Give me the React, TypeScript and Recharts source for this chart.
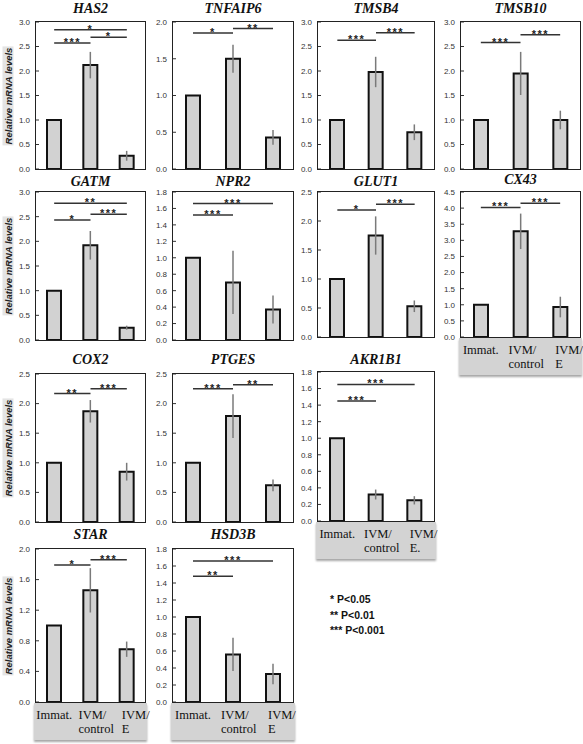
import React from 'react';
import { BarChart, Bar, XAxis, YAxis, ErrorBar, ReferenceLine } from 'recharts';

// ---------- data ----------
const groups = ['Immat.', 'IVM/control', 'IVM/E'];
const groupsAkr = ['Immat.', 'IVM/control', 'IVM/E.'];

const ticks30 = [0, 0.5, 1, 1.5, 2, 2.5, 3];
const ticks20 = [0, 0.5, 1, 1.5, 2];
const ticks18 = [0, 0.2, 0.4, 0.6, 0.8, 1, 1.2, 1.4, 1.6, 1.8];
const ticks25 = [0, 0.5, 1, 1.5, 2, 2.5];
const ticks45 = [0, 0.5, 1, 1.5, 2, 2.5, 3, 3.5, 4, 4.5];
const ticksStar = [0, 0.4, 0.8, 1.2, 1.6, 2.0];

const has2Values = [1.0, 2.12, 0.27];
const has2Errors = [0, 0.27, 0.1];
const tnfaip6Values = [1.0, 1.5, 0.43];
const tnfaip6Errors = [0, 0.19, 0.1];
const tmsb4Values = [1.0, 1.98, 0.75];
const tmsb4Errors = [0, 0.31, 0.16];
const tmsb10Values = [1.0, 1.95, 1.0];
const tmsb10Errors = [0, 0.44, 0.19];
const gatmValues = [1.0, 1.92, 0.25];
const gatmErrors = [0, 0.29, 0.04];
const npr2Values = [1.0, 0.7, 0.37];
const npr2Errors = [0, 0.385, 0.17];
const glut1Values = [1.0, 1.75, 0.53];
const glut1Errors = [0, 0.33, 0.1];
const cx43Values = [1.0, 3.28, 0.93];
const cx43Errors = [0, 0.55, 0.32];
const cox2Values = [1.0, 1.87, 0.85];
const cox2Errors = [0, 0.19, 0.15];
const ptgesValues = [1.0, 1.79, 0.62];
const ptgesErrors = [0, 0.37, 0.1];
const akr1b1Values = [1.0, 0.32, 0.25];
const akr1b1Errors = [0, 0.06, 0.05];
const starValues = [1.0, 1.46, 0.69];
const starErrors = [0, 0.29, 0.1];
const hsd3bValues = [1.0, 0.56, 0.33];
const hsd3bErrors = [0, 0.195, 0.12];

// significance brackets: [from group, to group, level, stars]
type Sig = [number, number, number, string];
const has2Sig: Sig[] = [[0, 1, 2.57, '***'], [1, 2, 2.69, '*'], [0, 2, 2.84, '*']];
const tnfaip6Sig: Sig[] = [[0, 1, 1.85, '*'], [1, 2, 1.91, '**']];
const tmsb4Sig: Sig[] = [[0, 1, 2.63, '***'], [1, 2, 2.78, '***']];
const tmsb10Sig: Sig[] = [[0, 1, 2.58, '***'], [1, 2, 2.74, '***']];
const gatmSig: Sig[] = [[0, 1, 2.43, '*'], [1, 2, 2.55, '***'], [0, 2, 2.77, '**']];
const npr2Sig: Sig[] = [[0, 1, 1.52, '***'], [0, 2, 1.66, '***']];
const glut1Sig: Sig[] = [[0, 1, 2.19, '*'], [1, 2, 2.29, '***']];
const cx43Sig: Sig[] = [[0, 1, 4.02, '***'], [1, 2, 4.15, '***']];
const cox2Sig: Sig[] = [[0, 1, 2.17, '**'], [1, 2, 2.25, '***']];
const ptgesSig: Sig[] = [[0, 1, 2.25, '***'], [1, 2, 2.32, '**']];
const akr1b1Sig: Sig[] = [[0, 1, 1.45, '***'], [0, 2, 1.65, '***']];
const starSig: Sig[] = [[0, 1, 1.79, '*'], [1, 2, 1.86, '***']];
const hsd3bSig: Sig[] = [[0, 1, 1.48, '**'], [0, 2, 1.66, '***']];

const legendLines = ['* P<0.05', '** P<0.01', '*** P<0.001'];
const yAxisTitle = 'Relative mRNA levels';

// ---------- layout ----------
const SANS = '"Liberation Sans", Arial, sans-serif';
const SERIF = '"Liberation Serif", "Times New Roman", Tinos, serif';

const CatTick = (props: any) => {
  const { x, y, payload, index } = props;
  const v: string = String(payload.value);
  const slash = v.indexOf('/');
  const style = { fontFamily: SERIF, fontSize: 12.5, fill: '#111' };
  if (slash < 0) {
    return (
      <text x={x} y={y + 17} textAnchor="middle" style={style}>
        {v}
      </text>
    );
  }
  const a = v.slice(0, slash + 1);
  const b = v.slice(slash + 1);
  const sx = x + (index === 2 ? -5 : -12);
  return (
    <text x={sx} y={y + 17} textAnchor="start" style={style}>
      <tspan x={sx}>{a}</tspan>
      <tspan x={sx} dy={14}>{b}</tspan>
    </text>
  );
};

type PanelProps = {
  title: string;
  titleY: number;
  cats: string[];
  values: number[];
  errors: number[];
  ticks: number[];
  sig: Sig[];
  box: [number, number, number, number];
  xLabels?: boolean;
  yTitle?: boolean;
};

function Panel({ title, titleY, cats, values, errors, ticks, sig, box, xLabels, yTitle }: PanelProps) {
  const data = cats.map((c, i) => ({ cat: c, value: values[i], err: errors[i] }));
  const [x0, y0, x1, y1] = box;
  const yw = 30;
  const mt = 8;
  const mb = 8;
  const mr = 24;
  const xh = xLabels ? 40 : 0;
  const W = x1 - x0 + yw + mr;
  const H = y1 - y0 + mt + xh + mb;
  return (
    <>
      <div
        style={{
          position: 'absolute',
          left: (x0 + x1) / 2,
          top: titleY,
          transform: 'translate(-50%, -50%)',
          fontFamily: SERIF,
          fontWeight: 'bold',
          fontStyle: 'italic',
          fontSize: 14,
          lineHeight: 1,
          whiteSpace: 'nowrap',
          color: '#111',
        }}
      >
        {title}
      </div>
      {yTitle && (
        <div
          style={{
            position: 'absolute',
            left: 8,
            top: (y0 + y1) / 2,
            transform: 'translate(-50%, -50%) rotate(-90deg)',
            fontFamily: SANS,
            fontWeight: 'bold',
            fontStyle: 'italic',
            fontSize: 9.5,
            lineHeight: '11px',
            whiteSpace: 'nowrap',
            background: '#e4e4e4',
            color: '#222',
            padding: '0 1px',
          }}
        >
          {yAxisTitle}
        </div>
      )}
      {xLabels && (
        <div
          style={{
            position: 'absolute',
            left: x0 - 2,
            top: y1 + 1,
            width: x1 - x0 + 4,
            height: xh - 3,
            background: '#d3d3d3',
            boxShadow: '0 2px 2px rgba(0,0,0,0.35)',
          }}
        />
      )}
      <div style={{ position: 'absolute', left: x0 - yw, top: y0 - mt }}>
        <BarChart
          width={W}
          height={H}
          data={data}
          margin={{ top: mt, right: mr, bottom: mb, left: 0 }}
        >
          <XAxis
            dataKey="cat"
            hide={!xLabels}
            height={xh}
            axisLine={false}
            tickLine={false}
            tickSize={0}
            tickMargin={0}
            interval={0}
            tick={<CatTick />}
          />
          <YAxis
            type="number"
            domain={[ticks[0], ticks[ticks.length - 1]]}
            ticks={ticks}
            interval={0}
            width={yw}
            axisLine={false}
            tickSize={-3}
            tickMargin={9}
            tickLine={{ stroke: '#333' }}
            tick={{ fontSize: 8, fill: '#333', fontFamily: SANS }}
            tickFormatter={(v: number) => v.toFixed(1)}
          />
          <Bar
            dataKey="value"
            fill="#d2d2d2"
            stroke="#111"
            strokeWidth={2}
            barSize={14}
            isAnimationActive={false}
          >
            <ErrorBar dataKey="err" width={0} stroke="#7a7a7a" strokeWidth={1.5} direction="y" />
          </Bar>
          {sig.map(([a, b, lvl, s], i) => (
            <ReferenceLine
              key={i}
              segment={[
                { x: cats[a], y: lvl },
                { x: cats[b], y: lvl },
              ]}
              stroke="#333"
              strokeWidth={1.5}
              ifOverflow="visible"
              label={{
                value: s,
                position: 'top',
                offset: -3,
                fill: '#222',
                fontSize: 11,
                fontWeight: 'bold',
                fontFamily: SANS,
                letterSpacing: 1.5,
              }}
            />
          ))}
        </BarChart>
      </div>
      <div
        style={{
          position: 'absolute',
          left: x0 - 0.75,
          top: y0 - 0.75,
          width: x1 - x0 + 1.5,
          height: y1 - y0 + 1.5,
          border: '1.5px solid #222',
          boxSizing: 'border-box',
          pointerEvents: 'none',
        }}
      />
    </>
  );
}

export default function App() {
  return (
    <div
      style={{
        position: 'absolute',
        left: 0,
        top: 0,
        width: 583,
        height: 744,
        background: '#fff',
        overflow: 'hidden',
      }}
    >
      <Panel title="HAS2" titleY={9} cats={groups} values={has2Values} errors={has2Errors} ticks={ticks30} sig={has2Sig} box={[36, 22, 145, 169]} yTitle />
      <Panel title="TNFAIP6" titleY={9} cats={groups} values={tnfaip6Values} errors={tnfaip6Errors} ticks={ticks20} sig={tnfaip6Sig} box={[173, 22, 293, 169]} />
      <Panel title="TMSB4" titleY={9} cats={groups} values={tmsb4Values} errors={tmsb4Errors} ticks={ticks30} sig={tmsb4Sig} box={[318, 22, 434, 169]} />
      <Panel title="TMSB10" titleY={9} cats={groups} values={tmsb10Values} errors={tmsb10Errors} ticks={ticks30} sig={tmsb10Sig} box={[461, 22, 580, 169]} />

      <Panel title="GATM" titleY={182} cats={groups} values={gatmValues} errors={gatmErrors} ticks={ticks30} sig={gatmSig} box={[36, 192, 145, 340]} yTitle />
      <Panel title="NPR2" titleY={182} cats={groups} values={npr2Values} errors={npr2Errors} ticks={ticks18} sig={npr2Sig} box={[173, 192, 293, 340]} />
      <Panel title="GLUT1" titleY={182} cats={groups} values={glut1Values} errors={glut1Errors} ticks={ticks25} sig={glut1Sig} box={[318, 192, 434, 337]} />
      <Panel title="CX43" titleY={180} cats={groups} values={cx43Values} errors={cx43Errors} ticks={ticks45} sig={cx43Sig} box={[461, 192, 580, 337]} xLabels />

      <Panel title="COX2" titleY={360} cats={groups} values={cox2Values} errors={cox2Errors} ticks={ticks25} sig={cox2Sig} box={[36, 374, 145, 522]} yTitle />
      <Panel title="PTGES" titleY={360} cats={groups} values={ptgesValues} errors={ptgesErrors} ticks={ticks25} sig={ptgesSig} box={[173, 374, 293, 522]} />
      <Panel title="AKR1B1" titleY={360} cats={groupsAkr} values={akr1b1Values} errors={akr1b1Errors} ticks={ticks18} sig={akr1b1Sig} box={[318, 372, 434, 521]} xLabels />

      <Panel title="STAR" titleY={535} cats={groups} values={starValues} errors={starErrors} ticks={ticksStar} sig={starSig} box={[36, 549, 145, 702]} xLabels yTitle />
      <Panel title="HSD3B" titleY={535} cats={groups} values={hsd3bValues} errors={hsd3bErrors} ticks={ticks18} sig={hsd3bSig} box={[173, 549, 293, 702]} xLabels />

      {legendLines.map((t, i) => (
        <div
          key={t}
          style={{
            position: 'absolute',
            left: 330,
            top: 592 + i * 15.5,
            fontFamily: SANS,
            fontWeight: 'bold',
            fontSize: 10.5,
            lineHeight: '14px',
            color: '#111',
            whiteSpace: 'nowrap',
          }}
        >
          {t}
        </div>
      ))}
    </div>
  );
}
